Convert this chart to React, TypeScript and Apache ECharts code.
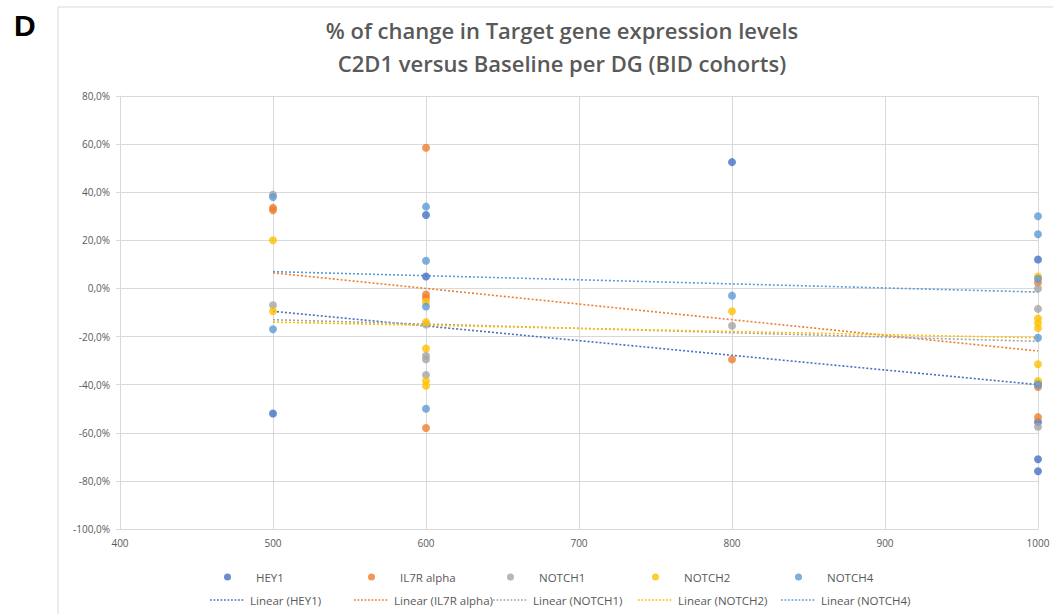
import React, { useEffect, useRef } from "react";
import * as echarts from "echarts";

const titleLines = [
  "% of change in Target gene expression levels",
  "C2D1 versus Baseline per DG (BID cohorts)",
];
const panelLabel = "D";

const seriesNames = ["HEY1", "IL7R alpha", "NOTCH1", "NOTCH2", "NOTCH4"];
const seriesColors = ["#4472C4", "#ED7D31", "#A5A5A5", "#FFC000", "#5B9BD5"];

// [dose, % change]
const hey1 = [
  [500, -52], [600, 30.5], [600, 5], [800, 52.5],
  [1000, 12], [1000, -39.5], [1000, -55.5], [1000, -71], [1000, -76],
];
const il7r = [
  [500, 33.5], [500, 32.5], [600, 58.5], [600, -2.5], [600, -4], [600, -58],
  [800, -29.5], [1000, 2.5], [1000, -41], [1000, -53.5],
];
const notch1 = [
  [500, 39], [500, -7], [600, -15], [600, -28], [600, -29.5], [600, -36],
  [800, -15.5], [1000, 0], [1000, -8.5], [1000, -57.5],
];
const notch2 = [
  [500, 20], [500, -9.5], [600, -5.5], [600, -14], [600, -25], [600, -38.5],
  [600, -40.5], [800, -9.5], [1000, 5], [1000, -12.5], [1000, -14.5],
  [1000, -16.5], [1000, -31.5], [1000, -38.5],
];
const notch4 = [
  [500, 38], [500, -17], [600, 34], [600, 11.5], [600, -7.5], [600, -50],
  [800, -3], [1000, 30], [1000, 22.5], [1000, 4], [1000, -20.5], [1000, -40],
];
const pointSets = [hey1, il7r, notch1, notch2, notch4];

// trend lines (linear fits): values at x = 500 and 1000
const trendX = [500, 1000];
const trendHey1 = [-9.5, -40];
const trendIl7r = [6.5, -26];
const trendNotch1 = [-13, -22];
const trendNotch2 = [-14, -20.5];
const trendNotch4 = [7, -1.5];
const trendSets = [trendHey1, trendIl7r, trendNotch1, trendNotch2, trendNotch4];

const xMin = 400, xMax = 1000, xStep = 100;
const yMin = -100, yMax = 80, yStep = 20;

const legendLefts = [205, 349, 488, 633, 776];

// legend icons: invisible corner moves fix the 35x7 box
const dotIcon =
  "path://M0,0 M35,7 M14,3.5 A3.5,3.5 0 1 1 21,3.5 A3.5,3.5 0 1 1 14,3.5 Z";
let dashPath = "path://M0,0 M35,7";
for (let x = 0; x + 2 <= 35; x += 3.5) {
  dashPath += " M" + x + ",2.75 h1.8 v1.5 h-1.8 Z";
}
const dashIcon = dashPath;

export default function App() {
  const ref = useRef<HTMLDivElement>(null);
  useEffect(() => {
    if (!ref.current) return;
    const chart = echarts.init(ref.current, null, { renderer: "svg" });
    const font = "'Open Sans', 'Liberation Sans', sans-serif";
    const gray = "#595959";

    const scatterSeries = seriesNames.map((n, i) => ({
      name: n,
      type: "scatter",
      data: pointSets[i],
      symbol: "circle",
      symbolSize: 8,
      itemStyle: { color: seriesColors[i] },
      z: 3,
    }));
    const lineSeries = seriesNames.map((n, i) => ({
      name: "Linear (" + n + ")",
      type: "line",
      data: trendX.map((x, k) => [x, trendSets[i][k]]),
      symbol: "none",
      lineStyle: { color: seriesColors[i], width: 1.6, type: [2, 2] },
      itemStyle: { color: seriesColors[i] },
      z: 2,
    }));

    const legends: any[] = [];
    seriesNames.forEach((n, i) => {
      legends.push({
        data: [{ name: n, icon: dotIcon }],
        left: legendLefts[i],
        top: 566,
        itemWidth: 35,
        itemHeight: 7,
        selectedMode: false,
        textStyle: {
          color: gray,
          fontSize: 11.5,
          fontFamily: font,
          padding: [0, 0, 0, 6],
        },
      });
      legends.push({
        data: [{ name: "Linear (" + n + ")", icon: dashIcon }],
        left: legendLefts[i],
        top: 589,
        itemWidth: 35,
        itemHeight: 7,
        selectedMode: false,
        itemStyle: { color: seriesColors[i] },
        lineStyle: { width: 0 },
        textStyle: { color: gray, fontSize: 11.5, fontFamily: font },
      });
    });

    chart.setOption({
      animation: false,
      backgroundColor: "#ffffff",
      grid: { left: 120, right: 15, top: 96, bottom: 85, containLabel: false },
      legend: legends,
      graphic: [
        {
          type: "rect",
          shape: { x: 58, y: 7, width: 1010, height: 620 },
          style: { fill: "none", stroke: "#D9D9D9", lineWidth: 1 },
          silent: true,
        },
        {
          type: "text",
          x: 14,
          y: 10,
          style: {
            text: panelLabel,
            font: "bold 30px 'Liberation Sans', Arial, sans-serif",
            fill: "#000000",
          },
        },
        {
          type: "text",
          x: 562,
          y: 19,
          style: {
            text: titleLines[0],
            font: "600 22px " + font,
            fill: gray,
            textAlign: "center",
          },
        },
        {
          type: "text",
          x: 562,
          y: 52,
          style: {
            text: titleLines[1],
            font: "600 22px " + font,
            fill: gray,
            textAlign: "center",
          },
        },
      ],
      xAxis: {
        type: "value",
        min: xMin,
        max: xMax,
        interval: xStep,
        axisLine: { show: true, onZero: false, lineStyle: { color: "#D9D9D9" } },
        axisTick: { show: false },
        splitLine: { show: true, lineStyle: { color: "#D9D9D9", width: 1 } },
        axisLabel: {
          color: gray,
          fontSize: 10,
          fontFamily: font,
          margin: 9,
          formatter: (v: number) => String(v),
        },
      },
      yAxis: {
        type: "value",
        min: yMin,
        max: yMax,
        interval: yStep,
        axisLine: { show: true, lineStyle: { color: "#D9D9D9" } },
        axisTick: { show: true, length: 4, lineStyle: { color: "#D9D9D9" } },
        splitLine: { show: true, lineStyle: { color: "#D9D9D9", width: 1 } },
        axisLabel: {
          color: gray,
          fontSize: 10,
          fontFamily: font,
          margin: 10,
          formatter: (v: number) => v.toFixed(1).replace(".", ",") + "%",
        },
      },
      series: [...lineSeries, ...scatterSeries],
    });
    return () => chart.dispose();
  }, []);
  return (
    <div
      ref={ref}
      style={{ position: "absolute", left: 0, top: 0, width: 1053, height: 614 }}
    />
  );
}
